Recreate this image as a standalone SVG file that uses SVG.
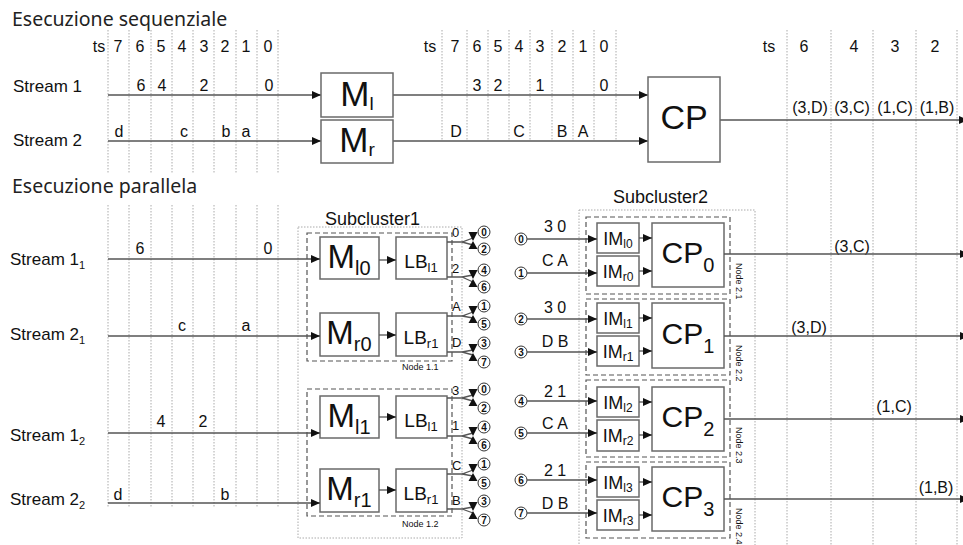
<svg xmlns="http://www.w3.org/2000/svg" xmlns:xlink="http://www.w3.org/1999/xlink" width="963" height="545" viewBox="0 0 963 545">
  <style>
    .t { font-family: "Liberation Sans", Arial, sans-serif; fill: #111; }
    .ttl { font-family: "Noto Sans", "Open Sans", sans-serif; fill: #222; font-size: 19.5px; }
    .v { font-size: 16px; text-anchor: middle; }
    .lbl { font-size: 17px; }
    .sm { font-size: 9px; }
    .cn { font-size: 10px; font-weight: bold; text-anchor: middle; }
    .grid { stroke: #aaa; stroke-width: 1; stroke-dasharray: 1.5 1.5; fill: none; }
    .ln { stroke: #555; stroke-width: 1.3; fill: none; }
    .arr { stroke: #555; stroke-width: 1.3; fill: none; marker-end: url(#ah); }
    .box { fill: #fff; stroke: #6a6a6a; stroke-width: 1.5; }
    .dash { fill: none; stroke: #555; stroke-width: 1.2; stroke-dasharray: 5 3; }
    .outer { fill: none; stroke: #aaa; stroke-width: 1; stroke-dasharray: 1.5 1.5; }
    .circ { fill: #fff; stroke: #333; stroke-width: 1; }
  </style>
  <defs>
    <marker id="ah" markerUnits="userSpaceOnUse" markerWidth="9" markerHeight="8" refX="9" refY="4" orient="auto">
      <path d="M0,0 L9,4 L0,8 Z" fill="#111"/>
    </marker>
    <!-- split arrowheads towards a pair of destination circles -->
    <path id="bow" d="M-4.5,-9 L4.5,-9 L0,0 Z M-4.5,8 L4.5,8 L0,0 Z" fill="#111"/>
  </defs>

  <!-- ===== sequential execution ===== -->
  <text class="ttl" x="12" y="26">Esecuzione sequenziale</text>

  <g id="seq-grid">
    <path class="grid" d="M108,30V173 M129,30V173 M151,30V173 M172,30V173 M193,30V173 M214,30V173 M236,30V173 M257,30V173 M278,30V173"/>
    <path class="grid" d="M442,30V140 M467,30V140 M488,30V140 M509,30V140 M530,30V140 M552,30V140 M573,30V140 M594,30V140 M616,30V140"/>
    <path class="grid" d="M787,30V545 M831,30V545 M873,30V545 M916,30V545 M957,30V545"/>
  </g>

  <g id="seq-headers" class="t">
    <text class="v" x="99" y="52">ts</text>
    <text class="v" x="118" y="52">7</text><text class="v" x="140" y="52">6</text>
    <text class="v" x="161" y="52">5</text><text class="v" x="182" y="52">4</text>
    <text class="v" x="204" y="52">3</text><text class="v" x="225" y="52">2</text>
    <text class="v" x="246" y="52">1</text><text class="v" x="268" y="52">0</text>

    <text class="v" x="430" y="52">ts</text>
    <text class="v" x="455" y="52">7</text><text class="v" x="477" y="52">6</text>
    <text class="v" x="498" y="52">5</text><text class="v" x="519" y="52">4</text>
    <text class="v" x="540" y="52">3</text><text class="v" x="562" y="52">2</text>
    <text class="v" x="583" y="52">1</text><text class="v" x="604" y="52">0</text>

    <text class="v" x="769" y="52">ts</text>
    <text class="v" x="804" y="52">6</text><text class="v" x="854" y="52">4</text>
    <text class="v" x="895" y="52">3</text><text class="v" x="935" y="52">2</text>
  </g>

  <g id="seq-streams" class="t">
    <text class="lbl" x="13" y="92">Stream 1</text>
    <text class="lbl" x="13" y="146">Stream 2</text>
    <text class="v" x="141" y="91">6</text><text class="v" x="162" y="91">4</text>
    <text class="v" x="204" y="91">2</text><text class="v" x="269" y="91">0</text>
    <text class="v" x="119" y="137">d</text><text class="v" x="184" y="137">c</text>
    <text class="v" x="226" y="137">b</text><text class="v" x="246" y="137">a</text>

    <text class="v" x="477" y="91">3</text><text class="v" x="498" y="91">2</text>
    <text class="v" x="540" y="91">1</text><text class="v" x="604" y="91">0</text>
    <text class="v" x="456" y="137">D</text><text class="v" x="519" y="137">C</text>
    <text class="v" x="562" y="137">B</text><text class="v" x="583" y="137">A</text>

    <text class="v" x="810" y="113">(3,D)</text><text class="v" x="852" y="113">(3,C)</text>
    <text class="v" x="895" y="113">(1,C)</text><text class="v" x="937" y="113">(1,B)</text>
  </g>

  <g id="seq-connectors">
    <path class="arr" d="M108,95H321"/>
    <path class="arr" d="M108,141H321"/>
    <path class="arr" d="M393,95H648"/>
    <path class="arr" d="M393,141H648"/>
    <path class="arr" d="M720,120H968"/>
  </g>

  <g id="Ml">
    <rect class="box" x="321" y="73" width="72" height="44"/>
    <text class="t" x="357" y="106" text-anchor="middle" font-size="35">M<tspan font-size="19" dy="4">l</tspan></text>
  </g>
  <g id="Mr">
    <rect class="box" x="321" y="120" width="72" height="43"/>
    <text class="t" x="357" y="152" text-anchor="middle" font-size="35">M<tspan font-size="19" dy="4">r</tspan></text>
  </g>
  <g id="CP">
    <rect class="box" x="648" y="77" width="72" height="85"/>
    <text class="t" x="684" y="129" text-anchor="middle" font-size="34">CP</text>
  </g>

  <!-- ===== parallel execution ===== -->
  <text class="ttl" x="12" y="193">Esecuzione parallela</text>

  <g id="par-grid">
    <path class="grid" d="M108,205V507 M129,205V507 M151,205V507 M172,205V507 M193,205V507 M214,205V507 M236,205V507 M257,205V507 M278,205V507"/>
  </g>

  <g id="par-streams" class="t">
    <text class="lbl" x="10" y="265">Stream 1<tspan font-size="11" dy="4">1</tspan></text>
    <text class="lbl" x="10" y="340">Stream 2<tspan font-size="11" dy="4">1</tspan></text>
    <text class="lbl" x="10" y="441">Stream 1<tspan font-size="11" dy="4">2</tspan></text>
    <text class="lbl" x="10" y="505">Stream 2<tspan font-size="11" dy="4">2</tspan></text>
    <text class="v" x="140" y="254">6</text><text class="v" x="268" y="254">0</text>
    <text class="v" x="182" y="331">c</text><text class="v" x="246" y="331">a</text>
    <text class="v" x="161" y="427">4</text><text class="v" x="203" y="427">2</text>
    <text class="v" x="118" y="500">d</text><text class="v" x="225" y="500">b</text>

    <text class="v" x="852" y="252">(3,C)</text>
    <text class="v" x="809" y="333">(3,D)</text>
    <text class="v" x="894" y="412">(1,C)</text>
    <text class="v" x="936" y="493">(1,B)</text>
  </g>

  <!-- Subcluster 1 -->
  <g id="subcluster1">
    <rect class="outer" x="298" y="227" width="164" height="311"/>
    <text class="t" x="325" y="225" font-size="18">Subcluster1</text>
  </g>

  <g id="node-1-1">
    <rect class="dash" x="307" y="233" width="145" height="128"/>
    <text class="t sm" x="402" y="370">Node 1.1</text>
    <g id="Ml0">
      <rect class="box" x="320" y="237" width="59" height="42"/>
      <text class="t" x="349" y="268" text-anchor="middle" font-size="33">M<tspan font-size="20" dy="7">l0</tspan></text>
    </g>
    <g id="LBl1-a">
      <rect class="box" x="396" y="237" width="51" height="42"/>
      <text class="t" x="421" y="268" text-anchor="middle" font-size="19">LB<tspan font-size="13" dy="4">l1</tspan></text>
    </g>
    <g id="Mr0">
      <rect class="box" x="320" y="313" width="59" height="43"/>
      <text class="t" x="349" y="344" text-anchor="middle" font-size="33">M<tspan font-size="20" dy="7">r0</tspan></text>
    </g>
    <g id="LBr1-a">
      <rect class="box" x="396" y="313" width="51" height="43"/>
      <text class="t" x="421" y="344" text-anchor="middle" font-size="19">LB<tspan font-size="13" dy="4">r1</tspan></text>
    </g>
  </g>

  <g id="node-1-2">
    <rect class="dash" x="307" y="389" width="145" height="127"/>
    <text class="t sm" x="402" y="527">Node 1.2</text>
    <g id="Ml1">
      <rect class="box" x="320" y="396" width="59" height="42"/>
      <text class="t" x="349" y="427" text-anchor="middle" font-size="33">M<tspan font-size="20" dy="7">l1</tspan></text>
    </g>
    <g id="LBl1-b">
      <rect class="box" x="396" y="396" width="51" height="42"/>
      <text class="t" x="421" y="427" text-anchor="middle" font-size="19">LB<tspan font-size="13" dy="4">l1</tspan></text>
    </g>
    <g id="Mr1">
      <rect class="box" x="320" y="469" width="59" height="43"/>
      <text class="t" x="349" y="500" text-anchor="middle" font-size="33">M<tspan font-size="20" dy="7">r1</tspan></text>
    </g>
    <g id="LBr1-b">
      <rect class="box" x="396" y="469" width="51" height="43"/>
      <text class="t" x="421" y="500" text-anchor="middle" font-size="19">LB<tspan font-size="13" dy="4">r1</tspan></text>
    </g>
  </g>

  <!-- load-balancer destination circles -->
  <g id="lb-targets" class="t">
    <circle class="circ" cx="484" cy="232" r="6"/><text class="cn" x="484" y="235.5">0</text>
    <circle class="circ" cx="484" cy="249" r="6"/><text class="cn" x="484" y="252.5">2</text>
    <circle class="circ" cx="484" cy="270" r="6"/><text class="cn" x="484" y="273.5">4</text>
    <circle class="circ" cx="484" cy="287" r="6"/><text class="cn" x="484" y="290.5">6</text>
    <circle class="circ" cx="484" cy="306" r="6"/><text class="cn" x="484" y="309.5">1</text>
    <circle class="circ" cx="484" cy="324" r="6"/><text class="cn" x="484" y="327.5">5</text>
    <circle class="circ" cx="484" cy="343" r="6"/><text class="cn" x="484" y="346.5">3</text>
    <circle class="circ" cx="484" cy="362" r="6"/><text class="cn" x="484" y="365.5">7</text>

    <circle class="circ" cx="484" cy="389" r="6"/><text class="cn" x="484" y="392.5">0</text>
    <circle class="circ" cx="484" cy="408" r="6"/><text class="cn" x="484" y="411.5">2</text>
    <circle class="circ" cx="484" cy="427" r="6"/><text class="cn" x="484" y="430.5">4</text>
    <circle class="circ" cx="484" cy="445" r="6"/><text class="cn" x="484" y="448.5">6</text>
    <circle class="circ" cx="484" cy="464" r="6"/><text class="cn" x="484" y="467.5">1</text>
    <circle class="circ" cx="484" cy="483" r="6"/><text class="cn" x="484" y="486.5">5</text>
    <circle class="circ" cx="484" cy="501" r="6"/><text class="cn" x="484" y="504.5">3</text>
    <circle class="circ" cx="484" cy="520" r="6"/><text class="cn" x="484" y="523.5">7</text>
  </g>

  <!-- Subcluster 2 -->
  <g id="subcluster2">
    <rect class="outer" x="579" y="210" width="176" height="345"/>
    <text class="t" x="613" y="203" font-size="18">Subcluster2</text>
  </g>

  <g id="node-2-1">
    <rect class="dash" x="586" y="217" width="144" height="77"/>
    <text class="t sm" transform="translate(736,263) rotate(90)">Node 2.1</text>
    <rect class="box" x="597" y="223" width="42" height="30"/>
    <text class="t" x="618" y="245" text-anchor="middle" font-size="18">IM<tspan font-size="12" dy="3">l0</tspan></text>
    <rect class="box" x="597" y="256" width="42" height="30"/>
    <text class="t" x="618" y="278" text-anchor="middle" font-size="18">IM<tspan font-size="12" dy="3">r0</tspan></text>
    <rect class="box" x="652" y="223" width="72" height="64"/>
    <text class="t" x="688" y="263" text-anchor="middle" font-size="30">CP<tspan font-size="20" dy="9">0</tspan></text>
  </g>

  <g id="node-2-2">
    <rect class="dash" x="586" y="299" width="144" height="76"/>
    <text class="t sm" transform="translate(736,345) rotate(90)">Node 2.2</text>
    <rect class="box" x="597" y="303" width="42" height="30"/>
    <text class="t" x="618" y="325" text-anchor="middle" font-size="18">IM<tspan font-size="12" dy="3">l1</tspan></text>
    <rect class="box" x="597" y="336" width="42" height="30"/>
    <text class="t" x="618" y="358" text-anchor="middle" font-size="18">IM<tspan font-size="12" dy="3">r1</tspan></text>
    <rect class="box" x="652" y="303" width="72" height="65"/>
    <text class="t" x="688" y="344" text-anchor="middle" font-size="30">CP<tspan font-size="20" dy="9">1</tspan></text>
  </g>

  <g id="node-2-3">
    <rect class="dash" x="586" y="380" width="144" height="77"/>
    <text class="t sm" transform="translate(736,427) rotate(90)">Node 2.3</text>
    <rect class="box" x="597" y="387" width="42" height="30"/>
    <text class="t" x="618" y="409" text-anchor="middle" font-size="18">IM<tspan font-size="12" dy="3">l2</tspan></text>
    <rect class="box" x="597" y="420" width="42" height="31"/>
    <text class="t" x="618" y="442" text-anchor="middle" font-size="18">IM<tspan font-size="12" dy="3">r2</tspan></text>
    <rect class="box" x="652" y="387" width="72" height="64"/>
    <text class="t" x="688" y="427" text-anchor="middle" font-size="30">CP<tspan font-size="20" dy="9">2</tspan></text>
  </g>

  <g id="node-2-4">
    <rect class="dash" x="586" y="462" width="144" height="76"/>
    <text class="t sm" transform="translate(736,508) rotate(90)">Node 2.4</text>
    <rect class="box" x="597" y="467" width="42" height="30"/>
    <text class="t" x="618" y="489" text-anchor="middle" font-size="18">IM<tspan font-size="12" dy="3">l3</tspan></text>
    <rect class="box" x="597" y="500" width="42" height="30"/>
    <text class="t" x="618" y="522" text-anchor="middle" font-size="18">IM<tspan font-size="12" dy="3">r3</tspan></text>
    <rect class="box" x="652" y="467" width="72" height="64"/>
    <text class="t" x="688" y="507" text-anchor="middle" font-size="30">CP<tspan font-size="20" dy="9">3</tspan></text>
  </g>

  <!-- input circles of subcluster 2 -->
  <g id="im-sources" class="t">
    <circle class="circ" cx="521" cy="239" r="6"/><text class="cn" x="521" y="242.5">0</text>
    <circle class="circ" cx="521" cy="273" r="6"/><text class="cn" x="521" y="276.5">1</text>
    <circle class="circ" cx="521" cy="319" r="6"/><text class="cn" x="521" y="322.5">2</text>
    <circle class="circ" cx="521" cy="352" r="6"/><text class="cn" x="521" y="355.5">3</text>
    <circle class="circ" cx="521" cy="401" r="6"/><text class="cn" x="521" y="404.5">4</text>
    <circle class="circ" cx="521" cy="433" r="6"/><text class="cn" x="521" y="436.5">5</text>
    <circle class="circ" cx="521" cy="480" r="6"/><text class="cn" x="521" y="483.5">6</text>
    <circle class="circ" cx="521" cy="513" r="6"/><text class="cn" x="521" y="516.5">7</text>

    <text class="v" x="555" y="232">3 0</text>
    <text class="v" x="555" y="266">C A</text>
    <text class="v" x="555" y="313">3 0</text>
    <text class="v" x="555" y="347">D B</text>
    <text class="v" x="555" y="397">2 1</text>
    <text class="v" x="555" y="429">C A</text>
    <text class="v" x="555" y="476">2 1</text>
    <text class="v" x="555" y="509">D B</text>
  </g>

  <!-- LB output labels -->
  <g id="lb-labels" class="t" font-size="13">
    <text x="452" y="237">0</text>
    <text x="452" y="273">2</text>
    <text x="452" y="311">A</text>
    <text x="452" y="347">D</text>
    <text x="452" y="395">3</text>
    <text x="452" y="430">1</text>
    <text x="452" y="470">C</text>
    <text x="452" y="505">B</text>
  </g>

  <g id="par-connectors">
    <!-- streams into mergers -->
    <path class="arr" d="M108,259H320"/>
    <path class="arr" d="M108,336H320"/>
    <path class="arr" d="M108,433H320"/>
    <path class="arr" d="M108,503H320"/>
    <!-- mergers to load balancers -->
    <path class="arr" d="M379,260H396"/>
    <path class="arr" d="M379,335H396"/>
    <path class="arr" d="M379,417H396"/>
    <path class="arr" d="M379,490H396"/>
    <!-- load balancer outputs -->
    <path class="ln" d="M447,242H462L473,238M462,242L473,245"/>
    <path class="ln" d="M447,277H462L473,275M462,277L473,282"/>
    <path class="ln" d="M447,316H462L473,312M462,316L473,318"/>
    <path class="ln" d="M447,352H462L473,350M462,352L473,355"/>
    <path class="ln" d="M447,398H462L473,395M462,398L473,401"/>
    <path class="ln" d="M447,436H462L473,433M462,436L473,439"/>
    <path class="ln" d="M447,474H462L473,470M462,474L473,476"/>
    <path class="ln" d="M447,509H462L473,507M462,509L473,513"/>
    <use xlink:href="#bow" x="473" y="241"/>
    <use xlink:href="#bow" x="473" y="279"/>
    <use xlink:href="#bow" x="473" y="315"/>
    <use xlink:href="#bow" x="473" y="353"/>
    <use xlink:href="#bow" x="473" y="398"/>
    <use xlink:href="#bow" x="473" y="436"/>
    <use xlink:href="#bow" x="473" y="473"/>
    <use xlink:href="#bow" x="473" y="511"/>
    <!-- circles to input managers -->
    <path class="arr" d="M527,239H597"/>
    <path class="arr" d="M527,273H597"/>
    <path class="arr" d="M527,319H597"/>
    <path class="arr" d="M527,352H597"/>
    <path class="arr" d="M527,401H597"/>
    <path class="arr" d="M527,433H597"/>
    <path class="arr" d="M527,480H597"/>
    <path class="arr" d="M527,513H597"/>
    <!-- input managers to CP -->
    <path class="arr" d="M639,238H652"/>
    <path class="arr" d="M639,271H652"/>
    <path class="arr" d="M639,318H652"/>
    <path class="arr" d="M639,351H652"/>
    <path class="arr" d="M639,402H652"/>
    <path class="arr" d="M639,435H652"/>
    <path class="arr" d="M639,482H652"/>
    <path class="arr" d="M639,515H652"/>
    <!-- CP outputs -->
    <path class="arr" d="M724,254H969"/>
    <path class="arr" d="M724,336H969"/>
    <path class="arr" d="M724,419H969"/>
    <path class="arr" d="M724,499H969"/>
  </g>
</svg>
